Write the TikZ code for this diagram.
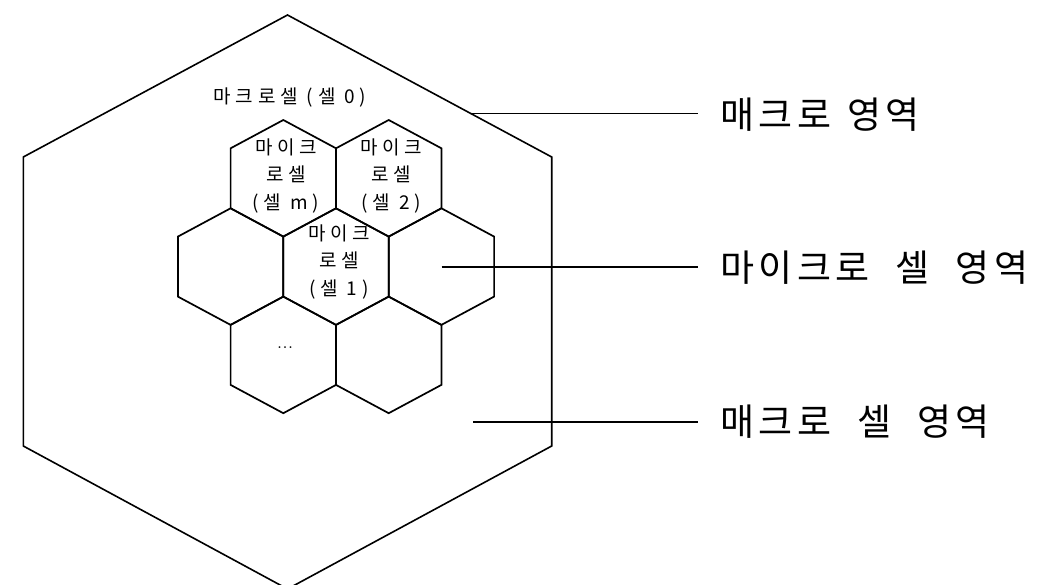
\documentclass[tikz,border=0pt]{standalone}
\usepackage{fontspec}
\newfontfamily\krsmall[LetterSpace=25]{Noto Sans CJK KR}
\newfontfamily\krbig[LetterSpace=12]{Noto Sans CJK KR}
\newcommand{\wgap}{\hspace{16pt}}
\newcommand{\wgapb}{\hspace{26pt}}
\tikzset{
  bighex/.style={draw=black, line width=1.6pt, line join=miter},
  cellhex/.style={draw=black, line width=1.7pt, line join=miter},
  leader/.style={draw=black, line width=1.8pt},
  celltext/.style={inner sep=0pt, align=center, font=\krsmall\fontsize{19}{27.5}\selectfont},
  macrotext/.style={inner sep=0pt, font=\krsmall\fontsize{19}{20}\selectfont},
  bigtext/.style={inner sep=0pt, anchor=west, font=\krbig\fontsize{37}{40}\selectfont},
}
\begin{document}
\begin{tikzpicture}[x=1pt,y=-1pt]
\useasboundingbox (0,0) rectangle (1052,585);
\fill[white] (0,0) rectangle (1052,585);
% macro cell (big hexagon)
\coordinate (HT) at (287.5,15);
\coordinate (HUR) at (551.7,157);
\coordinate (HLR) at (551.7,446);
\coordinate (HB) at (287.5,589);
\coordinate (HLL) at (23.3,446);
\coordinate (HUL) at (23.3,157);
\draw[bighex] (HT) -- (HUR) -- (HLR) -- (HB) -- (HLL) -- (HUL) -- cycle;
% micro cells
\foreach \cx/\cy in {283.3/178.3, 388.7/178.3, 230.6/266.6, 336/266.6, 441.4/266.6, 283.3/354.9, 388.7/354.9}{
  \draw[cellhex] (\cx,\cy-58.3) -- (\cx+52.7,\cy-30) -- (\cx+52.7,\cy+30) -- (\cx,\cy+58.3) -- (\cx-52.7,\cy+30) -- (\cx-52.7,\cy-30) -- cycle;
}
% texts inside
\node[macrotext] (macro) at (290,98) {마크로셀 (셀 0)};
\node[celltext] (cm) at (286,176) {마이크\\로셀\\(셀 m)};
\node[celltext] (c2) at (391.5,176) {마이크\\로셀\\(셀 2)};
\node[celltext] (c1) at (339,262) {마이크\\로셀\\(셀 1)};
\node[inner sep=0pt, font=\fontsize{22}{22}\selectfont] (dots) at (285,348) {...};
% labels on the right
\node[bigtext] (L1) at (720,115) {매크로\wgap 영역};
\node[bigtext] (L2) at (720,268) {마이크로\wgapb 셀\wgapb 영역};
\node[bigtext] (L3) at (720,422) {매크로\wgapb 셀\wgapb 영역};
% leader lines
\coordinate (P1) at (471,113.5);
\coordinate (P2) at (441.7,267.3);
\coordinate (P3) at (473,421.7);
\draw[leader, shorten >=22pt] (P1) -- (P1 -| L1.west);
\draw[leader, shorten >=22pt] (P2) -- (P2 -| L2.west);
\draw[leader, shorten >=22pt] (P3) -- (P3 -| L3.west);
\end{tikzpicture}
\end{document}
